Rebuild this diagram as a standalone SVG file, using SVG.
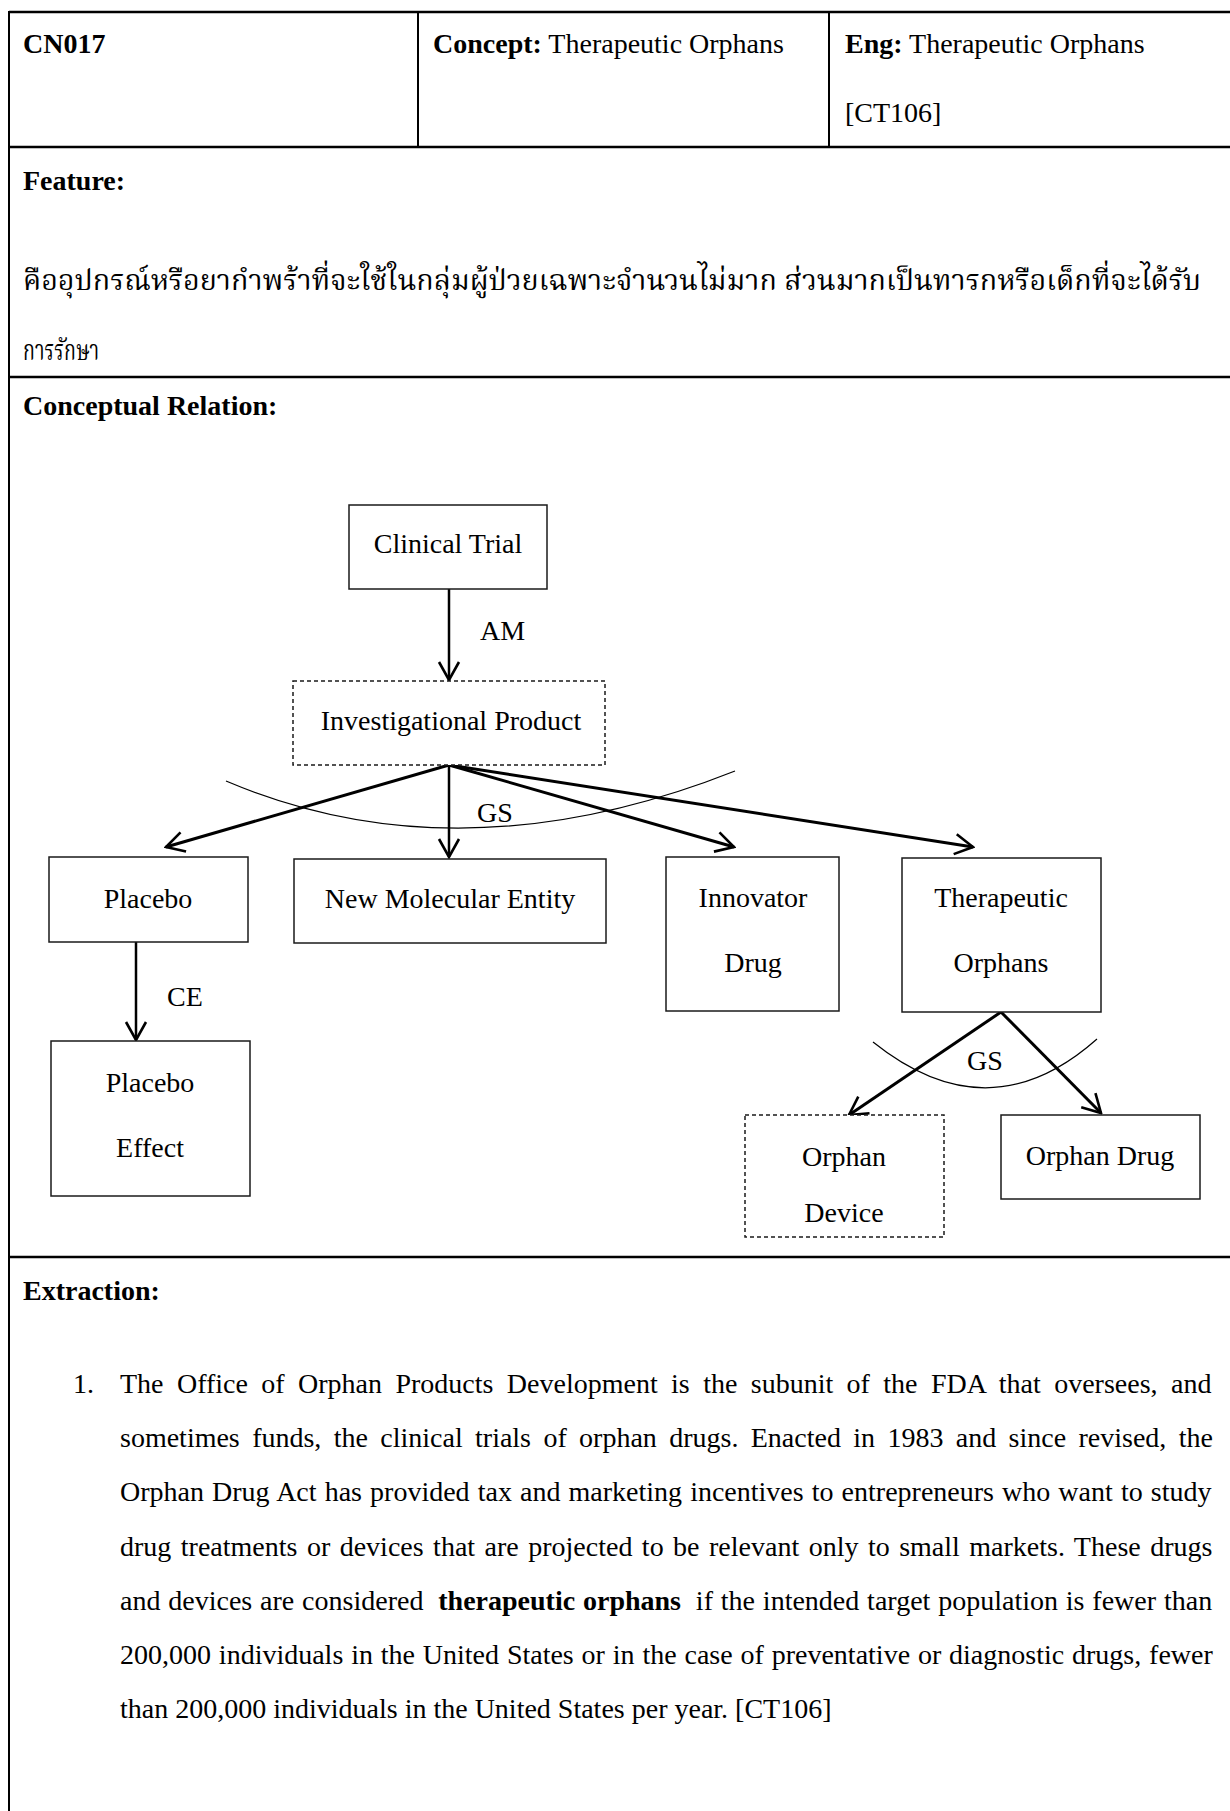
<svg xmlns="http://www.w3.org/2000/svg" width="1230" height="1811" viewBox="0 0 1230 1811">
  <style>
    .t { font-family: 'Liberation Serif', 'Times New Roman', serif; font-size: 28px; fill: #000; }
    .th { font-family: 'Noto Serif Thai', 'Noto Sans Thai', 'Liberation Serif', 'Noto Sans', serif; font-size: 28px; fill: #000; }
    .b { font-weight: bold; }
    .c { text-anchor: middle; }
    .rule { stroke: #000; stroke-width: 2.5; fill: none; }
    .vrule { stroke: #000; stroke-width: 2; fill: none; }
    .box { fill: #fff; stroke: #1a1a1a; stroke-width: 1.5; }
    .dash { stroke-dasharray: 4 3; }
    .conn { stroke: #000; stroke-width: 2.5; fill: none; }
    .fan { stroke-width: 3; }
    .arc { stroke: #000; stroke-width: 1.2; fill: none; }
  </style>
  <defs>
    <marker id="v" viewBox="-22 -13 24 26" refX="0" refY="0" markerWidth="24" markerHeight="26" markerUnits="userSpaceOnUse" orient="auto">
      <path d="M -18 -10 L 0 0 L -18 10" fill="none" stroke="#000" stroke-width="2.6"/>
    </marker>
  </defs>

  <rect width="1230" height="1811" fill="#fff"/>

  <!-- table frame -->
  <g id="table">
    <line class="rule" x1="9" y1="12" x2="1232" y2="12"/>
    <line class="vrule" x1="9" y1="11" x2="9" y2="1811"/>
    <line class="vrule" x1="418" y1="12" x2="418" y2="147"/>
    <line class="vrule" x1="829" y1="12" x2="829" y2="147"/>
    <line class="rule" x1="9" y1="147" x2="1232" y2="147"/>
    <line class="rule" x1="9" y1="377" x2="1232" y2="377"/>
    <line class="rule" x1="9" y1="1257" x2="1232" y2="1257"/>
  </g>

  <!-- header cells -->
  <g id="header">
    <text class="t b" x="23" y="53">CN017</text>
    <text class="t" x="433" y="53"><tspan class="b">Concept:</tspan> Therapeutic Orphans</text>
    <text class="t" x="845" y="53"><tspan class="b">Eng:</tspan> Therapeutic Orphans</text>
    <text class="t" x="845" y="122">[CT106]</text>
  </g>

  <!-- feature -->
  <g id="feature">
    <text class="t b" x="23" y="190">Feature:</text>
    <text class="th" x="23" y="290" textLength="1178" lengthAdjust="spacingAndGlyphs">คืออุปกรณ์หรือยากำพร้าที่จะใช้ในกลุ่มผู้ป่วยเฉพาะจำนวนไม่มาก ส่วนมากเป็นทารกหรือเด็กที่จะได้รับ</text>
    <text class="th" x="23" y="360" textLength="76" lengthAdjust="spacingAndGlyphs">การรักษา</text>
    <text class="t b" x="23" y="415">Conceptual Relation:</text>
  </g>

  <!-- connectors -->
  <g id="connectors">
    <line class="conn" x1="449" y1="589" x2="449" y2="680" marker-end="url(#v)"/>
    <line class="conn fan" x1="449" y1="765" x2="166" y2="847" marker-end="url(#v)"/>
    <line class="conn" x1="449" y1="765" x2="449" y2="857" marker-end="url(#v)"/>
    <line class="conn fan" x1="449" y1="765" x2="734" y2="847" marker-end="url(#v)"/>
    <line class="conn fan" x1="449" y1="765" x2="973" y2="847" marker-end="url(#v)"/>
    <line class="conn" x1="136" y1="942" x2="136" y2="1040" marker-end="url(#v)"/>
    <line class="conn fan" x1="1001" y1="1012" x2="849" y2="1115" marker-end="url(#v)"/>
    <line class="conn fan" x1="1001" y1="1012" x2="1101" y2="1113" marker-end="url(#v)"/>
    <path class="arc" d="M 226 781 Q 460 880 735 771"/>
    <path class="arc" d="M 873 1042 Q 989 1135 1097 1039"/>
    <text class="t" x="480" y="640">AM</text>
    <text class="t" x="477" y="822">GS</text>
    <text class="t" x="167" y="1006">CE</text>
    <text class="t" x="967" y="1070">GS</text>
  </g>

  <!-- nodes -->
  <g id="clinical-trial">
    <rect class="box" x="349" y="505" width="198" height="84"/>
    <text class="t c" x="448" y="553">Clinical Trial</text>
  </g>
  <g id="investigational-product">
    <rect class="box dash" x="293" y="681" width="312" height="84" fill="none"/>
    <text class="t c" x="451" y="730">Investigational Product</text>
  </g>
  <g id="placebo">
    <rect class="box" x="49" y="857" width="199" height="85"/>
    <text class="t c" x="148" y="908">Placebo</text>
  </g>
  <g id="new-molecular-entity">
    <rect class="box" x="294" y="859" width="312" height="84"/>
    <text class="t c" x="450" y="908">New Molecular Entity</text>
  </g>
  <g id="innovator-drug">
    <rect class="box" x="666" y="857" width="173" height="154"/>
    <text class="t c" x="753" y="907">Innovator</text>
    <text class="t c" x="753" y="972">Drug</text>
  </g>
  <g id="therapeutic-orphans">
    <rect class="box" x="902" y="858" width="199" height="154"/>
    <text class="t c" x="1001" y="907">Therapeutic</text>
    <text class="t c" x="1001" y="972">Orphans</text>
  </g>
  <g id="placebo-effect">
    <rect class="box" x="51" y="1041" width="199" height="155"/>
    <text class="t c" x="150" y="1092">Placebo</text>
    <text class="t c" x="150" y="1157">Effect</text>
  </g>
  <g id="orphan-device">
    <rect class="box dash" x="745" y="1115" width="199" height="122"/>
    <text class="t c" x="844" y="1166">Orphan</text>
    <text class="t c" x="844" y="1222">Device</text>
  </g>
  <g id="orphan-drug">
    <rect class="box" x="1001" y="1115" width="199" height="84"/>
    <text class="t c" x="1100" y="1165">Orphan Drug</text>
  </g>

  <!-- extraction -->
  <g id="extraction">
    <text class="t b" x="23" y="1300">Extraction:</text>
    <text class="t" x="73" y="1393">1.</text>
    <text class="t" x="120" y="1393" word-spacing="6.4">The Office of Orphan Products Development is the subunit of the FDA that oversees, and</text>
    <text class="t" x="120" y="1447" word-spacing="5.36">sometimes funds, the clinical trials of orphan drugs. Enacted in 1983 and since revised, the</text>
    <text class="t" x="120" y="1501" word-spacing="1.09">Orphan Drug Act has provided tax and marketing incentives to entrepreneurs who want to study</text>
    <text class="t" x="120" y="1556" word-spacing="2.47">drug treatments or devices that are projected to be relevant only to small markets. These drugs</text>
    <text class="t" x="120" y="1610" word-spacing="0.85">and devices are considered <tspan class="b" dx="7">therapeutic orphans</tspan><tspan dx="7"> if the intended target population is fewer than</tspan></text>
    <text class="t" x="120" y="1664" word-spacing="0.85">200,000 individuals in the United States or in the case of preventative or diagnostic drugs, fewer</text>
    <text class="t" x="120" y="1718">than 200,000 individuals in the United States per year. [CT106]</text>
  </g>
</svg>
